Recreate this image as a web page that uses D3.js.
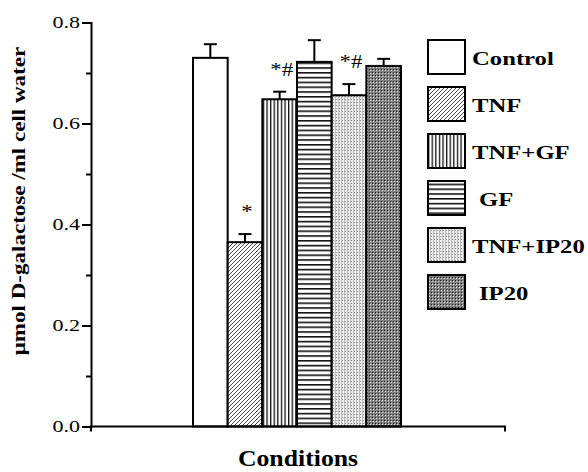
<!DOCTYPE html>
<html>
<head>
<meta charset="utf-8">
<script src="https://cdn.jsdelivr.net/npm/d3@7"></script>
<style>
  body { margin: 0; background: #fff; }
  text { font-family: "Liberation Serif", "Times New Roman", serif; }
</style>
</head>
<body>
<div id="chart"></div>
<script>
// datos
var groups = ['Control', 'TNF', 'TNF+GF', 'GF', 'TNF+IP20', 'IP20'];
var means = [0.730, 0.365, 0.648, 0.722, 0.656, 0.714];
var errors = [0.027, 0.016, 0.015, 0.043, 0.022, 0.014];
var marks = ['', '*', '*#', '', '*#', ''];
var y_ticks = [0, 0.2, 0.4, 0.6, 0.8];
var y_minor = [0.1, 0.3, 0.5, 0.7];

var width = 588,
	height = 472;

// el texto del original esta estirado a lo ancho
var stretch = 1.3;

var y_scale = d3.scaleLinear()
	.domain([0, 0.8])
	.range([426.5, 22.5]);

var x_scale = d3.scaleBand()
	.domain(groups)
	.range([193, 401])
	.padding(0);

var svg = d3.select('#chart')
	.append('svg')
	.attr('width', width)
	.attr('height', height);

/* ------------ patrones ------------ */
var defs = svg.append('defs');
var fills = ['#fff', 'url(#p-diag)', 'url(#p-vert)', 'url(#p-horz)', 'url(#p-light)', 'url(#p-dark)'];

var p = defs.append('pattern').attr('id', 'p-diag')
	.attr('patternUnits', 'userSpaceOnUse').attr('width', 4).attr('height', 4);
p.append('rect').attr('width', 4).attr('height', 4).attr('fill', '#fff');
p.append('path').attr('d', 'M-1,1 l2,-2 M0,4 l4,-4 M3,5 l2,-2')
	.attr('stroke', '#444').attr('stroke-width', 1);

p = defs.append('pattern').attr('id', 'p-vert')
	.attr('patternUnits', 'userSpaceOnUse').attr('width', 3.6).attr('height', 4);
p.append('rect').attr('width', 3.6).attr('height', 4).attr('fill', '#fff');
p.append('rect').attr('x', 0).attr('width', 1.3).attr('height', 4).attr('fill', '#111');

p = defs.append('pattern').attr('id', 'p-horz')
	.attr('patternUnits', 'userSpaceOnUse').attr('width', 4).attr('height', 4.8);
p.append('rect').attr('width', 4).attr('height', 4.8).attr('fill', '#fff');
p.append('rect').attr('y', 0).attr('width', 4).attr('height', 1.6).attr('fill', '#111');

p = defs.append('pattern').attr('id', 'p-light')
	.attr('patternUnits', 'userSpaceOnUse').attr('width', 3).attr('height', 3);
p.append('rect').attr('width', 3).attr('height', 3).attr('fill', '#eee');
p.append('rect').attr('width', 1).attr('height', 1).attr('fill', '#888');
p.append('rect').attr('x', 2).attr('width', 1).attr('height', 3).attr('fill', '#bbb');

p = defs.append('pattern').attr('id', 'p-dark')
	.attr('patternUnits', 'userSpaceOnUse').attr('width', 3).attr('height', 3);
p.append('rect').attr('width', 3).attr('height', 3).attr('fill', '#808080');
p.append('rect').attr('width', 1).attr('height', 1).attr('fill', '#222');
p.append('rect').attr('x', 1).attr('y', 1).attr('width', 1).attr('height', 1).attr('fill', '#ddd');

/* ------------ barras ------------ */
var bars = svg.selectAll('.bar')
	.data(groups)
	.enter()
	.append('g')
	.attr('class', 'bar');

// barra de error (solo la mitad superior)
bars.append('line')
	.attr('x1', function(d) { return x_scale(d) + x_scale.bandwidth() / 2; })
	.attr('x2', function(d) { return x_scale(d) + x_scale.bandwidth() / 2; })
	.attr('y1', function(d, i) { return y_scale(means[i]); })
	.attr('y2', function(d, i) { return y_scale(means[i] + errors[i]); })
	.attr('stroke', '#000').attr('stroke-width', 2);

bars.append('line')
	.attr('x1', function(d) { return x_scale(d) + x_scale.bandwidth() / 2 - 6.5; })
	.attr('x2', function(d) { return x_scale(d) + x_scale.bandwidth() / 2 + 6.5; })
	.attr('y1', function(d, i) { return y_scale(means[i] + errors[i]); })
	.attr('y2', function(d, i) { return y_scale(means[i] + errors[i]); })
	.attr('stroke', '#000').attr('stroke-width', 2);

bars.append('rect')
	.attr('x', function(d) { return x_scale(d); })
	.attr('y', function(d, i) { return y_scale(means[i]); })
	.attr('width', x_scale.bandwidth())
	.attr('height', function(d, i) { return y_scale(0) - y_scale(means[i]); })
	.attr('fill', function(d, i) { return fills[i]; })
	.attr('stroke', '#000')
	.attr('stroke-width', 2);

// marcas de significancia
bars.append('text')
	.attr('transform', function(d, i) {
		return 'translate(' + (x_scale(d) + x_scale.bandwidth() / 2 + 2) + ',' +
			(y_scale(means[i] + errors[i]) - 16) + ') scale(1.2,1)';
	})
	.attr('text-anchor', 'middle')
	.attr('font-size', 19)
	.text(function(d, i) { return marks[i]; });

/* ------------ ejes ------------ */
var y_axis = d3.axisLeft(y_scale)
	.tickValues(y_ticks)
	.tickSize(9)
	.tickFormat(d3.format('.1f'));

var y_g = svg.append('g')
	.attr('transform', 'translate(91,0)')
	.call(y_axis);
y_g.select('.domain').attr('stroke-width', 2);
y_g.selectAll('.tick line').attr('stroke-width', 2);
y_g.selectAll('.tick text')
	.attr('font-size', 17)
	.attr('font-family', '"Liberation Serif", serif')
	.attr('transform', 'scale(' + stretch + ',1)')
	.attr('x', -11 / stretch);

svg.append('g')
	.attr('transform', 'translate(91,0)')
	.call(d3.axisLeft(y_scale).tickValues(y_minor).tickSize(5).tickFormat(''))
	.call(function(g) { g.select('.domain').remove(); })
	.selectAll('line').attr('stroke-width', 2);

// eje x sin categorias, solo la linea con marcas en los extremos
svg.append('path')
	.attr('d', 'M91,' + (y_scale(0) + 5) + 'V' + y_scale(0) + 'H505V' + (y_scale(0) + 5))
	.attr('fill', 'none')
	.attr('stroke', '#000')
	.attr('stroke-width', 2);

svg.append('text')
	.attr('transform', 'translate(298,466) scale(1.12,1)')
	.attr('text-anchor', 'middle')
	.attr('font-size', 23)
	.attr('font-weight', 'bold')
	.text('Conditions');

svg.append('text')
	.attr('transform', 'translate(25,201) rotate(-90) scale(1.28,1)')
	.attr('text-anchor', 'middle')
	.attr('font-size', 18)
	.attr('font-weight', 'bold')
	.text('\u03bcmol D-galactose /ml cell water');

/* ------------ leyenda ------------ */
var legend = svg.selectAll('.legend')
	.data(groups)
	.enter()
	.append('g')
	.attr('class', 'legend')
	.attr('transform', function(d, i) { return 'translate(428,' + (57 + i * 47) + ')'; });

legend.append('rect')
	.attr('x', 0)
	.attr('y', -17)
	.attr('width', 37)
	.attr('height', 34)
	.attr('fill', function(d, i) { return fills[i]; })
	.attr('stroke', '#000')
	.attr('stroke-width', 2);

legend.append('text')
	.attr('transform', function(d) {
		var dx = (d === 'GF' || d === 'IP20') ? 51 : 44;
		return 'translate(' + dx + ',8) scale(' + stretch + ',1)';
	})
	.attr('font-size', 19)
	.attr('font-weight', 'bold')
	.text(function(d) { return d; });
</script>
</body>
</html>
